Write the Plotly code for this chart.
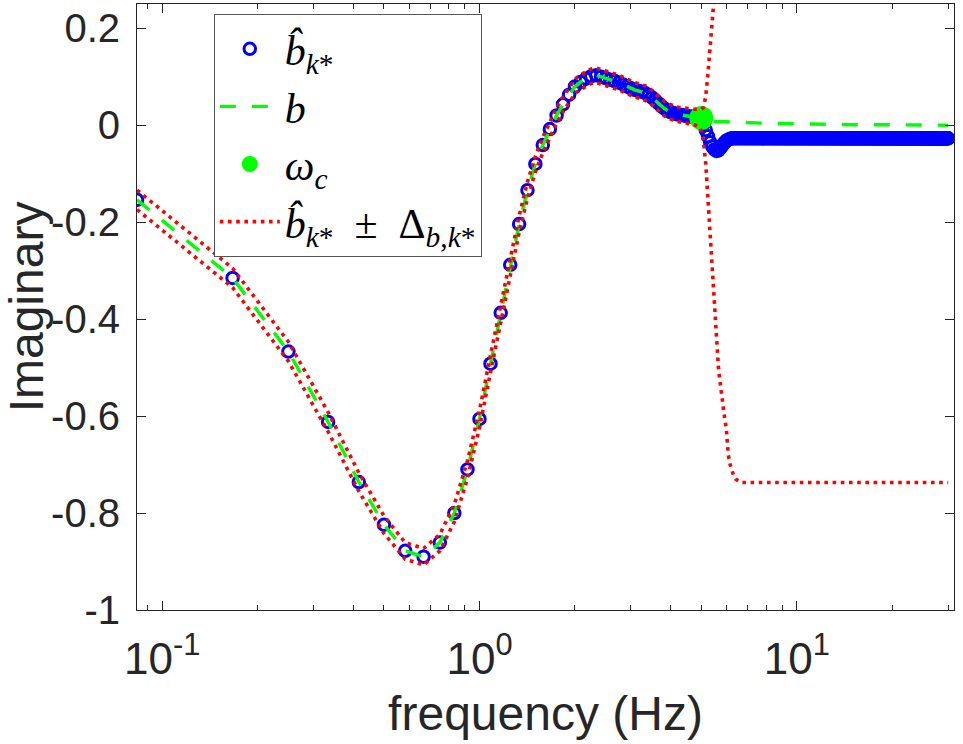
import numpy as np
import plotly.graph_objects as go

# ---------------- data ----------------
freq_step = 1.0 / 12.0           # frequency grid spacing (Hz)
n_points = 360                    # grid runs up to 30 Hz
freq = np.arange(1, n_points + 1) * freq_step

# estimated imaginary part b_hat at the first 75 grid frequencies
b_hat_low = [
    -0.154, -0.315, -0.467, -0.612, -0.736, -0.824, -0.878, -0.890, -0.861, -0.800,
    -0.710, -0.606, -0.492, -0.387, -0.288, -0.204, -0.134, -0.080, -0.041, -0.008,
    0.020, 0.043, 0.063, 0.080, 0.089, 0.096, 0.101, 0.103, 0.100, 0.097,
    0.094, 0.091, 0.088, 0.084, 0.080, 0.076, 0.073, 0.071, 0.069, 0.066,
    0.062, 0.057, 0.051, 0.045, 0.039, 0.034, 0.030, 0.027, 0.025, 0.023,
    0.022, 0.021, 0.020, 0.019, 0.018, 0.018, 0.017, 0.016, 0.015, 0.011,
    0.002, -0.010, -0.023, -0.035, -0.044, -0.050, -0.053, -0.052, -0.047, -0.041,
    -0.036, -0.032, -0.030, -0.028, -0.027,
]
b_hat_tail_value = -0.027        # flat plateau above ~6.3 Hz
b_hat = np.array(b_hat_low + [b_hat_tail_value] * (n_points - len(b_hat_low)))

# uncertainty half-width Delta at the first 80 grid frequencies
delta_low = [
    0.020, 0.020, 0.020, 0.020, 0.019, 0.018, 0.017, 0.017, 0.017, 0.018,
    0.018, 0.018, 0.018, 0.018, 0.018, 0.017, 0.017, 0.016, 0.016, 0.016,
    0.016, 0.015, 0.015, 0.015, 0.015, 0.015, 0.015, 0.015, 0.015, 0.015,
    0.015, 0.015, 0.015, 0.015, 0.015, 0.015, 0.015, 0.015, 0.015, 0.015,
    0.015, 0.015, 0.015, 0.015, 0.015, 0.015, 0.015, 0.015, 0.015, 0.015,
    0.015, 0.015, 0.015, 0.015, 0.015, 0.015, 0.016, 0.017, 0.018, 0.022,
    0.035, 0.070, 0.130, 0.205, 0.280, 0.340, 0.400, 0.450, 0.490, 0.535,
    0.565, 0.596, 0.650, 0.672, 0.688, 0.697, 0.703, 0.706, 0.708, 0.710,
]
delta_tail_value = 0.710
delta = np.array(delta_low + [delta_tail_value] * (n_points - len(delta_low)))

# true b: coincides with b_hat below the cut-off, then a nearly flat tail
b_true_low_n = 60
b_true_tail_freq = [5.3, 6.0, 7.0, 8.0, 10.0, 12.0, 15.0, 20.0, 25.0, 30.0]
b_true_tail_vals = [0.008, 0.007, 0.005, 0.004, 0.003, 0.002, 0.001, 0.001, 0.0, 0.0]

# cut-off frequency omega_c
wc_freq = 5.0
wc_val = 0.015

# axis ticks
ytick_vals = [-1, -0.8, -0.6, -0.4, -0.2, 0, 0.2]
ytick_text = ["-1", "-0.8", "-0.6", "-0.4", "-0.2", "0", "0.2"]
xtick_vals = [0.1, 1, 10]
xtick_text = ["10<sup>-1</sup>", "10<sup>0</sup>", "10<sup>1</sup>"]
xminor_vals = [0.09, 0.2, 0.3, 0.4, 0.5, 0.6, 0.7, 0.8, 0.9,
               2, 3, 4, 5, 6, 7, 8, 9, 20, 30]

# ---------------- figure ----------------
b_true_x = list(freq[:b_true_low_n]) + b_true_tail_freq
b_true_y = list(b_hat[:b_true_low_n]) + b_true_tail_vals
upper = b_hat + delta
lower = b_hat - delta

AX = "#262626"
LEG_FONT = dict(family="Liberation Serif", size=42, color="black")

fig = go.Figure()
fig.add_trace(go.Scatter(
    x=freq, y=b_hat, mode="markers", name="<i>b\u0302</i><sub><i>k</i>*</sub>",
    legendgroup="a",
    marker=dict(symbol="circle-open", size=11.5, color="#0000ff",
                line=dict(width=3, color="#0000ff")),
))
fig.add_trace(go.Scatter(
    x=b_true_x, y=b_true_y, mode="lines", name="<i>b</i>", legendgroup="b",
    line=dict(color="#00ff00", width=3.4, dash="16px,16px"),
))
fig.add_trace(go.Scatter(
    x=[wc_freq], y=[wc_val], mode="markers", name="<i>\u03c9</i><sub><i>c</i></sub>",
    legendgroup="c",
    marker=dict(symbol="circle", size=24, color="#00ff00"),
))
fig.add_trace(go.Scatter(
    x=freq, y=upper, mode="lines",
    name="<i>b\u0302</i><sub><i>k</i>*</sub>\u2002\u00b1\u2002\u0394<sub><i>b</i>,<i>k</i>*</sub>",
    legendgroup="d",
    line=dict(color="#ff0000", width=3.6, dash="3.6px,4.6px"),
))
fig.add_trace(go.Scatter(
    x=freq, y=lower, mode="lines", showlegend=False, legendgroup="d",
    line=dict(color="#ff0000", width=3.6, dash="3.6px,4.6px"),
))

fig.update_layout(
    width=963, height=744,
    margin=dict(l=137, r=9, t=4, b=134),
    paper_bgcolor="white", plot_bgcolor="white",
    font=dict(family="Liberation Sans", size=40, color=AX),
    showlegend=True,
    legend=dict(
        x=0.094, y=0.9835, xanchor="left", yanchor="top",
        bgcolor="white", bordercolor="#555555", borderwidth=1,
        font=LEG_FONT, itemwidth=60, tracegroupgap=0,
    ),
    xaxis=dict(
        type="log", range=[np.log10(0.0833), np.log10(31.3)],
        tickmode="array", tickvals=xtick_vals, ticktext=xtick_text,
        ticks="inside", ticklen=9, tickwidth=1, tickcolor=AX,
        minor=dict(tickmode="array", tickvals=xminor_vals, ticks="inside",
                   ticklen=5, tickcolor=AX, showgrid=False),
        showline=True, linecolor=AX, linewidth=1, mirror="allticks",
        showgrid=False, zeroline=False,
        tickfont=dict(size=44), ticklabelstandoff=10,
        title=dict(text="frequency (Hz)", font=dict(size=48), standoff=14),
    ),
    yaxis=dict(
        range=[-1, 0.25],
        tickmode="array", tickvals=ytick_vals, ticktext=ytick_text,
        ticks="inside", ticklen=9, tickwidth=1, tickcolor=AX,
        showline=True, linecolor=AX, linewidth=1, mirror="allticks",
        showgrid=False, zeroline=False,
        tickfont=dict(size=40), ticklabelstandoff=8,
        title=dict(text="Imaginary", font=dict(size=48), standoff=14),
    ),
)

fig.write_html("out.html")
